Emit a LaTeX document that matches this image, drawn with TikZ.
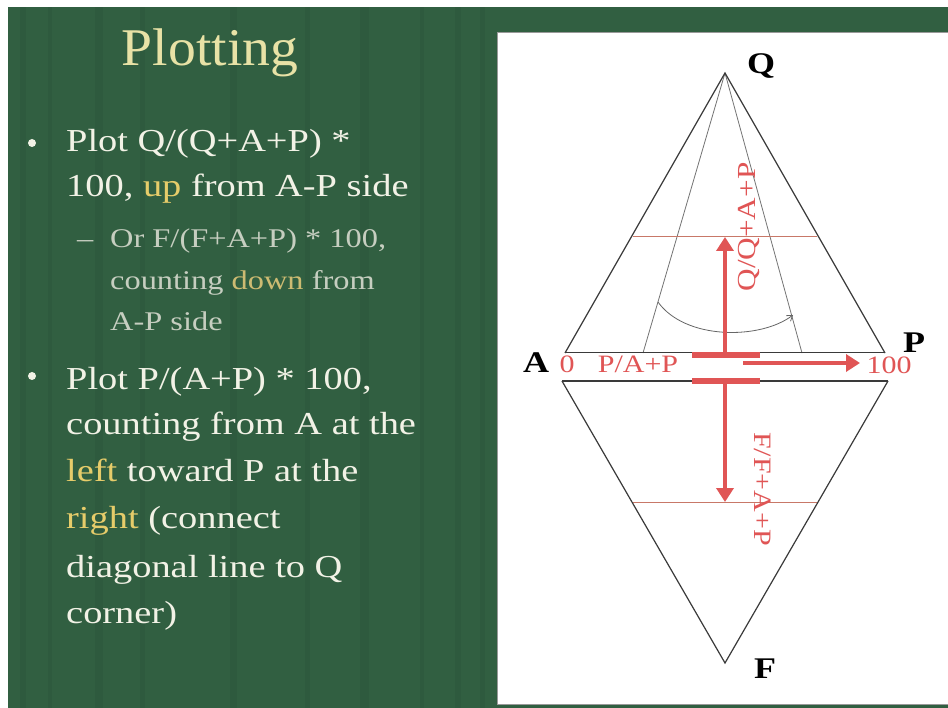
\documentclass[tikz,border=0pt]{standalone}
\usepackage{fontspec}
\setmainfont{Liberation Serif}
\newfontfamily\bodyfont{Liberation Serif}[FakeStretch=1.2]
\newfontfamily\titlefont{Liberation Serif}[FakeStretch=1.05]
\usetikzlibrary{arrows.meta}
\definecolor{slidegreen}{HTML}{315F41}
\definecolor{stripedark}{HTML}{284F36}
\definecolor{txt}{HTML}{F2F2E6}
\definecolor{titlecol}{HTML}{E8E2A6}
\definecolor{hl}{HTML}{E6CC6A}
\definecolor{subtxt}{HTML}{C6CEC0}
\definecolor{subhl}{HTML}{CDBB72}
\definecolor{redline}{HTML}{E05555}
\definecolor{thinred}{HTML}{C87868}
\definecolor{edge}{HTML}{3A3A3A}
\tikzset{
  body/.style={anchor=base west, inner sep=0pt, text=txt, font=\bodyfont\fontsize{32}{38}\selectfont},
  sub/.style={anchor=base west, inner sep=0pt, text=subtxt, font=\bodyfont\fontsize{27}{32}\selectfont},
  bulletdot/.style={circle, fill=txt, inner sep=0pt, minimum size=8pt},
  vlabel/.style={inner sep=0pt, text=black, font=\bodyfont\bfseries\fontsize{30}{34}\selectfont},
  rlabel/.style={inner sep=0pt, text=redline, font=\bodyfont\fontsize{25}{28}\selectfont},
  side/.style={draw=edge, line width=1.2pt},
  inner/.style={draw=black!55, line width=0.8pt},
  redthin/.style={draw=thinred, line width=0.9pt},
  redbar/.style={draw=redline, line width=6pt},
  redarrow/.style={draw=redline, line width=4.5pt, -{Triangle[length=14pt, width=17pt]}}
}
\begin{document}
\begin{tikzpicture}[x=1pt,y=-1pt]
\useasboundingbox (0,0) rectangle (948,708);
\fill[white] (0,0) rectangle (948,708);
\fill[slidegreen] (8,7) rectangle (948,708);
% subtle vertical stripes
\foreach \xx/\ww in {20/6, 48/4, 95/8, 140/5, 230/7, 305/5, 360/9, 420/4, 455/6, 480/5}{
  \fill[stripedark, opacity=0.25] (\xx,7) rectangle (\xx+\ww,708);
}
% white panel
\fill[white] (497,32) rectangle (948,704);
\draw[black!40, line width=0.8pt] (497,32) -- (948,32);
\draw[black!40, line width=0.8pt] (497,32) -- (497,704) -- (948,704);

% title
\node[anchor=base, inner sep=0pt, text=titlecol, font=\titlefont\fontsize{53}{60}\selectfont] (title) at (210,66) {Plotting};

% bullets
\node[bulletdot] (b1) at (32,143) {};
\node[body] (l1) at (66,152) {Plot Q/(Q+A+P) *};
\node[body] (l2) at (66,197) {100, \textcolor{hl}{up} from A-P side};
\node[sub] (s0) at (77,248) {–};
\node[sub] (s1) at (110,248) {Or F/(F+A+P) * 100,};
\node[sub] (s2) at (110,290) {counting \textcolor{subhl}{down} from};
\node[sub] (s3) at (110,331) {A-P side};
\node[bulletdot] (b2) at (32,376) {};
\node[body] (m1) at (66,390) {Plot P/(A+P) * 100,};
\node[body] (m2) at (66,435) {counting from A at the};
\node[body] (m3) at (66,482) {\textcolor{hl}{left} toward P at the};
\node[body] (m4) at (66,528) {\textcolor{hl}{right} (connect};
\node[body] (m5) at (66,577) {diagonal line to Q};
\node[body] (m6) at (66,623) {corner)};

% diagram geometry
\coordinate (Q) at (725,73);
\coordinate (At) at (565,353);
\coordinate (Pt) at (885,353);
\coordinate (Ab) at (562,381);
\coordinate (Pb) at (888,381);
\coordinate (F) at (725,663);
\coordinate (d1) at (643,353);
\coordinate (d2) at (802,353);
\coordinate (hu1) at (633,236);
\coordinate (hu2) at (817,236);
\coordinate (hl1) at (633,502);
\coordinate (hl2) at (817,502);
\coordinate (arc1) at (658,302);
\coordinate (arc2) at (793,315);

% inner diagonals and red guide lines
\draw[inner] (Q) -- (d1);
\draw[inner] (Q) -- (d2);
\draw[redthin] (hu1) -- (hu2);
\draw[redthin] (hl1) -- (hl2);
\draw[draw=black!60, line width=0.8pt, -{Straight Barb[length=5pt, width=7pt]}] (arc1) .. controls (685,340) and (760,340) .. (arc2);

% triangle sides
\draw[side] (At) -- (Q) -- (Pt);
\draw[side, line width=1pt] (At) -- (Pt);
\draw[side, line width=1.8pt] (Ab) -- (Pb);
\draw[side] (Ab) -- (F) -- (Pb);

% red bars and arrows
\coordinate (bu1) at (692,355);
\coordinate (bu2) at (760,355);
\coordinate (bl1) at (692,381);
\coordinate (bl2) at (760,381);
\draw[redbar] (bu1) -- (bu2);
\draw[redbar] (bl1) -- (bl2);
\coordinate (upstart) at (725,353);
\coordinate (uptip) at (725,237);
\coordinate (downstart) at (725,381);
\coordinate (downtip) at (725,502);
\coordinate (rstart) at (743,363);
\coordinate (rtip) at (860,363);
\draw[redarrow] (upstart) -- (uptip);
\draw[redarrow] (downstart) -- (downtip);
\draw[redarrow] (rstart) -- (rtip);

% labels
\node[vlabel] (lQ) at (761,66) {Q};
\node[vlabel] (lA) at (536,363) {A};
\node[vlabel] (lP) at (914,343) {P};
\node[vlabel] (lF) at (765,669) {F};
\node[rlabel] (zero) at (567,364) {0};
\node[rlabel] (pap) at (638,364) {P/A+P};
\node[rlabel] (hund) at (889,365) {100};
\node[rlabel, font=\bodyfont\fontsize{26}{30}\selectfont, rotate=90] (qlab) at (749,227) {Q/Q+A+P};
\node[rlabel, font=\bodyfont\fontsize{25}{30}\selectfont, rotate=-90] (flab) at (763,489) {F/F+A+P};
\end{tikzpicture}
\end{document}
